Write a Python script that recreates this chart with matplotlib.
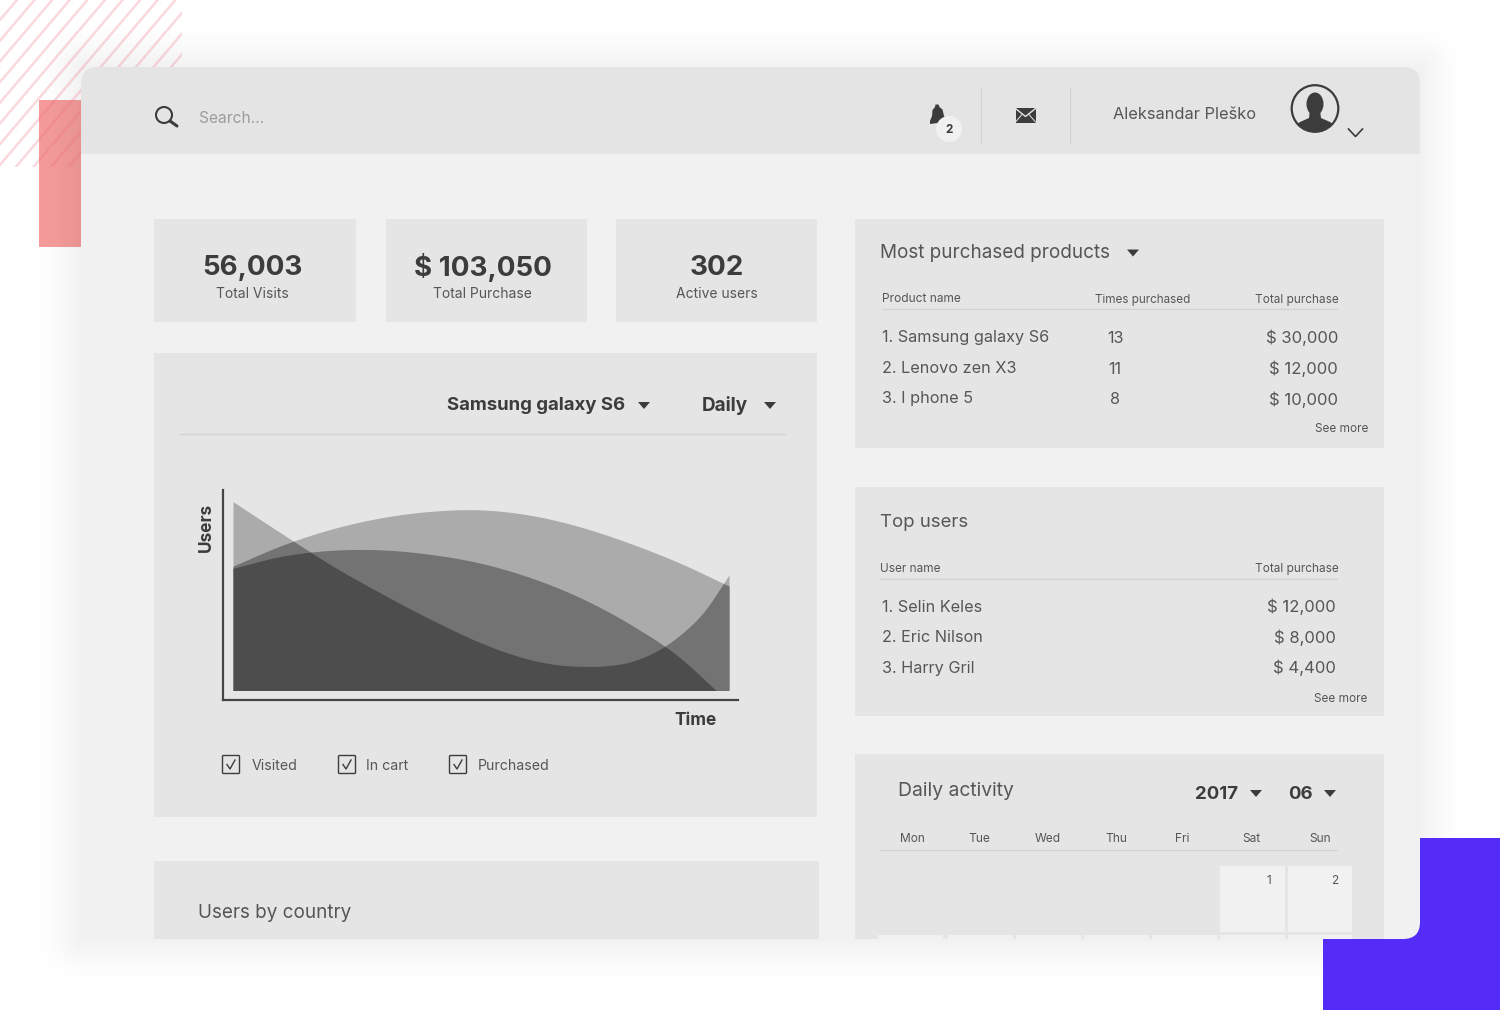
import numpy as np
import matplotlib
matplotlib.use("Agg")
import matplotlib.pyplot as plt
from matplotlib.patches import Rectangle, FancyBboxPatch, Circle, Polygon, Ellipse

# ---------- data ----------
kpi_values = ["56,003", "$ 103,050", "302"]
kpi_labels = ["Total Visits", "Total Purchase", "Active users"]
products = ["1. Samsung galaxy S6", "2. Lenovo zen X3", "3. I phone 5"]
times_purchased = ["13", "11", "8"]
product_totals = ["$ 30,000", "$ 12,000", "$ 10,000"]
users = ["1. Selin Keles", "2. Eric Nilson", "3. Harry Gril"]
user_totals = ["$ 12,000", "$ 8,000", "$ 4,400"]
weekdays = ["Mon", "Tue", "Wed", "Thu", "Fri", "Sat", "Sun"]
legend_labels = ["Visited", "In cart", "Purchased"]

time_a = [0, 10, 20, 30, 40, 50, 60, 70, 80, 90, 100]
visited = [62.2, 72.7, 80.8, 86.4, 89.6, 90.3, 87.6, 81.8, 73.6, 63.8, 52.2]
time_b = [0, 10, 20, 30, 40, 50, 60, 70, 80, 90, 97.4]
in_cart = [61.1, 67.2, 70.1, 70.3, 68, 63.6, 56.4, 46.4, 33.2, 16.6, 0]
time_c = [0, 10, 20, 30, 40, 50, 55, 60, 65, 70, 75, 80, 85, 90, 95, 100]
purchased = [94.4, 78.2, 62.4, 48.4, 35.4, 23.8, 19.1, 15.4, 13, 12.1, 12.3, 14.3, 19.2, 27.5, 39.6, 57.8]

FONT = "Inter"
DARK = "#3c3c3c"
MID = "#565656"
PANEL = "#e5e5e5"
BODY = "#f1f1f1"
HEAD = "#e4e4e4"
RULE = "#d2d2d2"

fig = plt.figure(figsize=(15, 10.1), dpi=100, facecolor="white")
ax = fig.add_axes([0, 0, 1, 1])
ax.set_axis_off()


def rect(x0, y0, x1, y1, color, z=3, **kw):
    p = Rectangle((x0, y0), x1 - x0, y1 - y0, facecolor=color, edgecolor="none", zorder=z, **kw)
    ax.add_patch(p)
    return p


def txt(x, y, s, size, color=MID, ha="left", weight="normal", z=6, **kw):
    return ax.text(x, y + 2.5, s, fontsize=size, color=color, ha=ha, va="center", weight=weight,
                   family=FONT, zorder=z, **kw)


def tri(x, y, w=12, h=7, color=DARK):
    ax.add_patch(Polygon([(x - w / 2, y - h / 2), (x + w / 2, y - h / 2), (x, y + h / 2)],
                         closed=True, facecolor=color, edgecolor="none", zorder=6))


def hline(x0, x1, y, color=RULE, lw=0.9):
    ax.plot([x0, x1], [y, y], color=color, lw=lw, zorder=5, solid_capstyle="butt")


# ---------- decorative background ----------
rect(39, 100, 81, 247, "#f59b9b", z=1)

yy, xx = np.mgrid[0:1010, 0:1500]
dx = np.maximum(np.maximum(81 - xx, xx - 1420), 0)
dy = np.maximum(np.maximum(67 - yy, yy - 939), 0)
dist = np.hypot(dx, dy)
shade = np.clip(1 - dist / 52, 0, 1) ** 1.6 * 0.055
shadow = np.zeros((1010, 1500, 4))
shadow[..., 3] = shade
ax.imshow(shadow, extent=(0, 1500, 1010, 0), zorder=1.2, interpolation="nearest", aspect="auto")
ax.set_xlim(0, 1500)
ax.set_ylim(1010, 0)

stripe_clip = Rectangle((0, 0), 182, 167, transform=ax.transData)
for start in np.arange(-145.2, 360, 17.6):
    ln, = ax.plot([start, start + 170], [170, -30], color="#ee6a78", alpha=0.25, lw=1.8, zorder=1.5,
                  solid_capstyle="butt")
    ln.set_clip_path(stripe_clip)

rect(1420, 838, 1500, 1010, "#552bf7", z=1.9)
rect(1323, 900, 1500, 1010, "#552bf7", z=1.9)

# ---------- card ----------
card = FancyBboxPatch((81, 67), 1339, 872, boxstyle="round,pad=0,rounding_size=17",
                      facecolor=BODY, edgecolor="none", zorder=2)
ax.add_patch(card)
head = rect(81, 67, 1420, 154, HEAD, z=2.2)
head.set_clip_path(card)

# header
ax.add_patch(Circle((164, 115), 8, facecolor="none", edgecolor=DARK, lw=1.5, zorder=6))
ax.plot([170, 177], [121, 126], color=DARK, lw=2.2, zorder=6, solid_capstyle="round")
txt(198.5, 116, "Search...", 11.2, color="#9c9c9c")
ax.add_patch(Polygon([(935.5, 104.5), (938.5, 104.5), (939.5, 107), (942.5, 109.5), (944, 116), (947, 120),
                      (941, 122.5), (930, 124), (930, 121), (932, 116), (932.5, 110), (935, 107)],
                     facecolor=DARK, edgecolor="none", zorder=6))
ax.add_patch(Circle((949, 129), 13, facecolor=BODY, edgecolor="none", zorder=6.5))
txt(949, 127.5, "2", 8.5, color=DARK, ha="center", weight="bold", z=7)
ax.plot([981, 981], [88, 143], color=RULE, lw=0.8, zorder=5)
ax.plot([1069.5, 1069.5], [88, 143], color=RULE, lw=0.8, zorder=5)
rect(1015.5, 108, 1035.5, 122.5, DARK, z=6)
ax.plot([1015.5, 1025.5, 1035.5], [108.5, 116.5, 108.5], color=HEAD, lw=1.0, zorder=6.5)
ax.plot([1015.5, 1022], [122, 114.5], color=HEAD, lw=0.7, zorder=6.5)
ax.plot([1035.5, 1029], [122, 114.5], color=HEAD, lw=0.7, zorder=6.5)
txt(1113, 112, "Aleksandar Pleško", 11.8, color=MID)
avatar = Circle((1315, 108.5), 23.3, facecolor="none", edgecolor=DARK, lw=1.6, zorder=6)
ax.add_patch(avatar)
ax.add_patch(Ellipse((1315, 104), 17, 23, facecolor=DARK, edgecolor="none", zorder=6))
shoulders = Polygon([(1310, 110), (1320, 110), (1321, 118), (1330, 122), (1340, 128), (1340, 135), (1290, 135),
                     (1290, 128), (1300, 122), (1309, 118)], facecolor=DARK, edgecolor="none", zorder=6)
ax.add_patch(shoulders)
shoulders.set_clip_path(Circle((1315, 108.5), 23.3, transform=ax.transData))
ax.plot([1348.5, 1355.5, 1362.5], [129, 136.5, 129], color=DARK, lw=1.2, zorder=6)

# KPI tiles
for (x0, x1), cx, v, l in zip([(154, 356), (386, 587), (616, 817)], [252, 482.5, 717], kpi_values, kpi_labels):
    rect(x0, 219, x1, 322, PANEL)
    txt(cx, 265.5, v, 20, color=DARK, ha="center", weight="bold")
    txt(cx, 292, l, 10, color=MID, ha="center")

# chart panel
rect(154, 353, 817, 817, PANEL)
txt(625, 403.5, "Samsung galaxy S6", 13.4, color=DARK, ha="right", weight="bold")
tri(644, 405.5)
txt(702, 403, "Daily", 13.6, color=DARK, weight="bold")
tri(770, 405.5)
hline(179, 786, 434, color="#d3d3d3", lw=1.0)

# legend check boxes
for bx, tx, lab in zip([222, 338, 449], [252, 365.5, 477.5], legend_labels):
    ax.add_patch(FancyBboxPatch((bx + 0.5, 755.5), 17, 18, boxstyle="round,pad=0,rounding_size=1",
                                facecolor="none", edgecolor=DARK, lw=1.0, zorder=6))
    ax.plot([bx + 5, bx + 8, bx + 13], [764.5, 769, 760], color=DARK, lw=1.0, zorder=6)
    txt(tx, 764, lab, 10.2, color=MID)

# lower-left panel
rect(154, 861, 818.5, 939, PANEL)
txt(198.5, 910, "Users by country", 13.6, color=MID)

# purchased products panel
rect(855, 219, 1384, 448, PANEL)
txt(880.5, 250, "Most purchased products", 13.6, color=MID)
tri(1133, 253)
txt(882, 297, "Product name", 8.6, color=MID)
txt(1095, 297, "Times purchased", 8.4, color=MID)
txt(1338.5, 297, "Total purchase", 8.5, color=MID, ha="right")
hline(881, 1338, 309)
for y, p, t, s in zip([335, 366, 396.5], products, times_purchased, product_totals):
    txt(882.5, y, p, 11.7, color=MID)
    txt(1115, y + 1, t, 11.7, color=MID, ha="center")
    txt(1338, y + 0.5, s, 12, color=MID, ha="right")
txt(1368, 427, "See more", 8.5, color=MID, ha="right")

# top users panel
rect(855, 487, 1384, 716, PANEL)
txt(880.5, 520, "Top users", 13.4, color=MID)
txt(880.5, 566.5, "User name", 8.5, color=MID)
txt(1338.5, 566.5, "Total purchase", 8.5, color=MID, ha="right")
hline(880, 1338, 579)
for y, u, s in zip([604.5, 635, 665.5], users, user_totals):
    txt(882.5, y, u, 11.7, color=MID)
    txt(1336, y, s, 12, color=MID, ha="right")
txt(1367, 697, "See more", 8.5, color=MID, ha="right")

# calendar panel
rect(855, 754, 1384, 939, PANEL)
txt(897.5, 789, "Daily activity", 13.9, color=MID)
txt(1195, 792, "2017", 13.4, color=DARK, weight="bold")
tri(1256, 793.5)
txt(1288, 792, "06", 13.4, color=DARK, weight="bold")
tri(1330, 793.5)
for cx, d in zip([912, 979.5, 1048, 1116, 1182.5, 1251.5, 1320], weekdays):
    txt(cx, 837, d, 8.6, color=MID, ha="center")
hline(880, 1337, 850)
cols = [(878, 943), (948, 1013), (1016, 1081), (1084, 1149), (1152, 1217), (1220, 1285), (1288, 1352)]
for c0, c1 in cols:
    rect(c0, 935, c1, 939, BODY, z=4)
for (c0, c1), d in zip(cols[5:], ["1", "2"]):
    rect(c0, 866, c1, 932, BODY, z=4)
    txt(c1 - 14, 879, d, 8.6, color=MID, ha="right")

ax.set_xlim(0, 1500)
ax.set_ylim(1010, 0)

# ---------- area chart, on its own axes ----------
W, H = 1500.0, 1010.0
chart = fig.add_axes([223 / W, 1 - 700 / H, (738 - 223) / W, (700 - 490) / H], zorder=5)
chart.patch.set_alpha(0)
chart.set_xlim(-2.02, 101.8)
chart.set_ylim(-4.75, 100.25)
chart.set_xticks([])
chart.set_yticks([])
for side in ("top", "right"):
    chart.spines[side].set_visible(False)
for side in ("left", "bottom"):
    chart.spines[side].set_color("#444444")
    chart.spines[side].set_linewidth(1.6)
chart.set_xlabel("Time", fontsize=12.4, color=DARK, weight="bold", family=FONT)
chart.xaxis.set_label_coords(0.918, -0.0584)
chart.set_ylabel("Users", fontsize=12.4, color=DARK, weight="bold", family=FONT)
chart.yaxis.set_label_coords(-0.0155, 0.824)


def smooth(xs, ys, grid):
    """Hermite drawing of a read polyline, for a smooth outline."""
    xs, ys = np.asarray(xs, float), np.asarray(ys, float)
    m = np.gradient(ys, xs)
    i = np.clip(np.searchsorted(xs, grid, side="right") - 1, 0, len(xs) - 2)
    h = xs[i + 1] - xs[i]
    t = np.clip((grid - xs[i]) / h, 0, 1)
    out = ((2 * t**3 - 3 * t**2 + 1) * ys[i] + (t**3 - 2 * t**2 + t) * h * m[i]
           + (-2 * t**3 + 3 * t**2) * ys[i + 1] + (t**3 - t**2) * h * m[i + 1])
    return np.where(grid > xs[-1], 0.0, np.maximum(out, 0))


grid = np.linspace(0, 100, 1200)
stack = np.sort(np.vstack([smooth(time_a, visited, grid), smooth(time_b, in_cart, grid),
                           smooth(time_c, purchased, grid)]), axis=0)
chart.fill_between(grid, 0, stack[2], color="#ababab", lw=0)
chart.fill_between(grid, 0, stack[1], color="#737373", lw=0)
chart.fill_between(grid, 0, stack[0], color="#4d4d4d", lw=0)

fig.savefig("out.png", dpi=100)
